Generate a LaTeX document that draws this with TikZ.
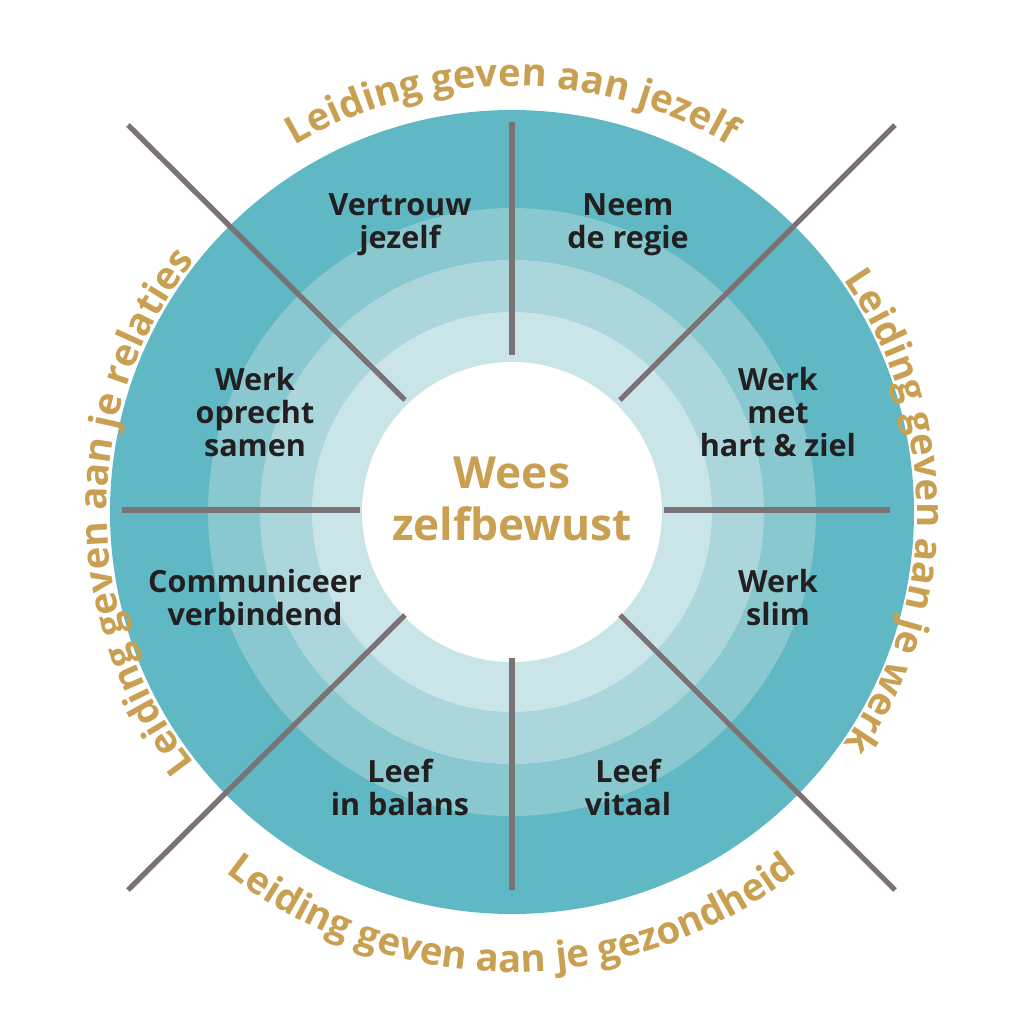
\documentclass[tikz,border=0pt]{standalone}
\usepackage{fontspec}
\setmainfont{Open Sans}
\usetikzlibrary{decorations.text}
\definecolor{r1}{HTML}{5FB8C3}
\definecolor{r2}{HTML}{8AC8D0}
\definecolor{r3}{HTML}{ABD6DC}
\definecolor{r4}{HTML}{CAE5E8}
\definecolor{gold}{HTML}{C9A052}
\definecolor{ln}{HTML}{7A7275}
\definecolor{dk}{HTML}{231F20}
\newcommand{\curvefont}{\fontsize{10.9}{12}\selectfont\bfseries\color{gold}}
\begin{document}
\begin{tikzpicture}[
  lab/.style={align=center,font=\fontsize{8.7}{9.4}\selectfont\bfseries,text=dk},
  sep/.style={draw=ln,line width=1.5pt},
  curved/.style={decorate,decoration={text along path,text align=center,text={#1}}}]
\useasboundingbox (-5.12,-5.12) rectangle (5.12,5.12);
\fill[r1] (0,0) circle (4.02);
\fill[r2] (0,0) circle (3.04);
\fill[r3] (0,0) circle (2.52);
\fill[r4] (0,0) circle (2.0);
\fill[white] (0,0) circle (1.5);
\coordinate (t1) at (0,3.9); \coordinate (t2) at (0,1.57);
\coordinate (b1) at (0,-3.78); \coordinate (b2) at (0,-1.46);
\coordinate (l1) at (-3.9,0.02); \coordinate (l2) at (-1.52,0.02);
\coordinate (r1p) at (3.78,0.02); \coordinate (r2p) at (1.52,0.02);
\coordinate (a1) at (-3.84,3.87); \coordinate (a2) at (-1.07,1.12);
\coordinate (c1) at (3.83,3.87); \coordinate (c2) at (1.08,1.12);
\coordinate (d1) at (-3.84,-3.78); \coordinate (d2) at (-1.07,-1.03);
\coordinate (e1) at (3.83,-3.78); \coordinate (e2) at (1.08,-1.03);
\foreach \p/\q in {t1/t2,b1/b2,l1/l2,r1p/r2p,a1/a2,c1/c2,d1/d2,e1/e2}
  \draw[sep] (\p) -- (\q);
\node[lab] (n1) at (-1.12,2.87) {Vertrouw\\jezelf};
\node[lab] (n2) at (1.16,2.87) {Neem\\de regie};
\node[lab] (n3) at (-2.57,1.0) {Werk\\oprecht\\samen};
\node[lab] (n4) at (2.66,1.0) {Werk\\met\\hart \& ziel};
\node[lab] (n5) at (-2.57,-0.86) {Communiceer\\verbindend};
\node[lab] (n6) at (2.66,-0.86) {Werk\\slim};
\node[lab] (n7) at (-1.12,-2.75) {Leef\\in balans};
\node[lab] (n8) at (1.16,-2.75) {Leef\\vitaal};
\node[align=center,font=\fontsize{12.6}{15}\selectfont\bfseries,text=gold] (c) at (0,0.13) {Wees\\zelfbewust};
\path[curved={|\curvefont|Leiding geven aan jezelf}] (140:4.26) arc (140:40:4.26);
\path[curved={|\curvefont|Leiding geven aan je werk}] (55:4.05) arc (55:-55:4.05);
\path[curved={|\curvefont|Leiding geven aan je relaties}] (235:4.05) arc (235:125:4.05);
\path[curved={|\curvefont|Leiding geven aan je gezondheid}] (208:4.6) arc (208:332:4.6);
\end{tikzpicture}
\end{document}
